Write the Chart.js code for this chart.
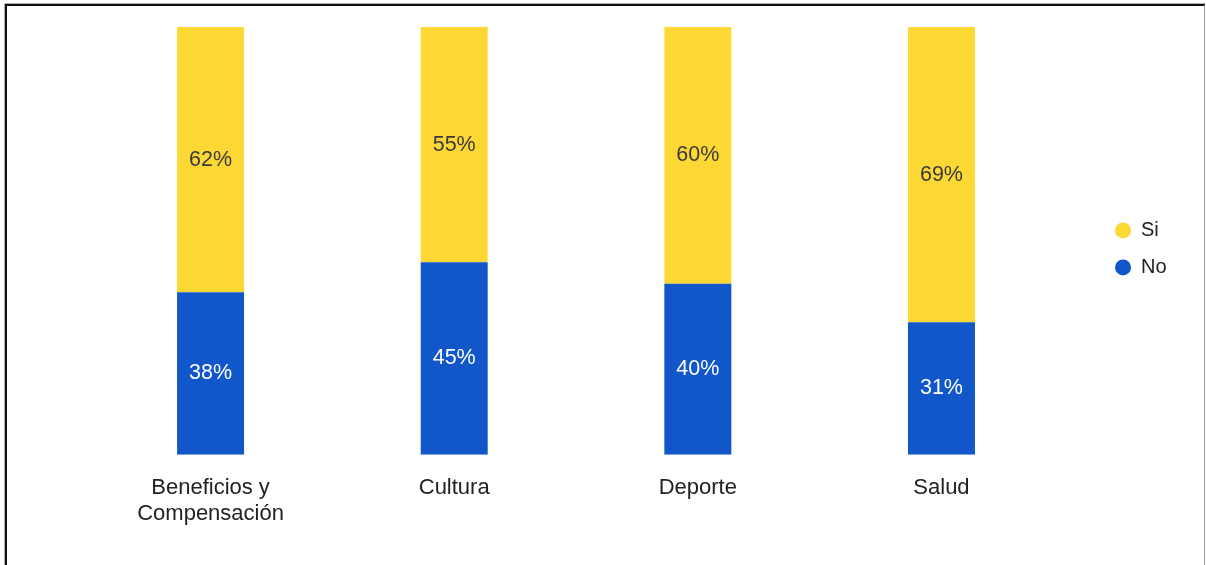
<!DOCTYPE html>
<html>
<head>
<meta charset="utf-8">
<script src="https://cdn.jsdelivr.net/npm/chart.js@4.4.1/dist/chart.umd.min.js"></script>
<style>
    body { margin: 0; background: #fff; font-family: "Liberation Sans", Arial, sans-serif; }
    #frame { position: absolute; left: 5px; top: 4px; width: 1200px; height: 700px; box-sizing: border-box;
             border-top: 2px solid #111; border-left: 2px solid #111; border-right: 1px solid #999;
             box-shadow: 0 -1px 0 0 #aaa, -1px 0 0 0 #aaa; }
    #wrap { position: absolute; left: 0; top: 0; width: 1206px; height: 565px; }
</style>
</head>
<body>
<div id="frame"></div>
<div id="wrap"><canvas id="myChart"></canvas></div>
<script>
const categorias = [['Beneficios y', 'Compensación'], 'Cultura', 'Deporte', 'Salud'];
const valoresSi = [62, 55, 60, 69];
const valoresNo = [38, 45, 40, 31];

// etiquetas % en el centro de cada segmento
const etiquetasPlugin = {
    id: 'etiquetas',
    afterDatasetsDraw(chart) {
        const ctx = chart.ctx;
        ctx.save();
        ctx.font = '21.5px "Liberation Sans", Arial, sans-serif';
        ctx.textAlign = 'center';
        ctx.textBaseline = 'middle';
        chart.data.datasets.forEach((ds, i) => {
            const meta = chart.getDatasetMeta(i);
            meta.data.forEach((bar, j) => {
                ctx.fillStyle = ds.labelColor;
                ctx.fillText(ds.data[j] + '%', bar.x, (bar.y + bar.base) / 2);
            });
        });
        ctx.restore();
    }
};

new Chart(document.getElementById('myChart'), {
    type: 'bar',
    data: {
        labels: categorias,
        datasets: [{
            label: 'No',
            data: valoresNo,
            backgroundColor: '#1157C9',
            labelColor: '#ffffff',
            borderWidth: 0,
            categoryPercentage: 1,
            barPercentage: 0.275
        }, {
            label: 'Si',
            data: valoresSi,
            backgroundColor: '#FDD835',
            labelColor: '#3a3a3a',
            borderWidth: 0,
            categoryPercentage: 1,
            barPercentage: 0.275
        }]
    },
    options: {
        responsive: true,
        maintainAspectRatio: false,
        animation: false,
        layout: { padding: { top: 27, left: 88.75, right: 29.4, bottom: 18 } },
        scales: {
            x: {
                stacked: true,
                grid: { display: false, drawTicks: false },
                border: { display: false },
                ticks: {
                    color: '#222',
                    padding: 21,
                    maxRotation: 0,
                    font: { family: '"Liberation Sans", Arial, sans-serif', size: 22, lineHeight: 1.14 }
                }
            },
            y: {
                stacked: true,
                position: 'right', // eje oculto, solo deja hueco antes de la leyenda
                min: 0,
                max: 100,
                grid: { display: false, drawTicks: false },
                border: { display: false },
                ticks: { display: false },
                afterFit(scale) { scale.width = 34.75; }
            }
        },
        plugins: {
            tooltip: { enabled: false },
            legend: {
                position: 'right',
                fullSize: false,
                reverse: true,
                title: { display: true, text: '', padding: { top: 7.5, bottom: 7.5 }, font: { size: 1, lineHeight: 1 } },
                labels: {
                    usePointStyle: true,
                    pointStyle: 'circle',
                    pointStyleWidth: 16,
                    boxHeight: 11.3,
                    padding: 17,
                    color: '#222',
                    font: { family: '"Liberation Sans", Arial, sans-serif', size: 20 }
                }
            }
        }
    },
    plugins: [etiquetasPlugin]
});
</script>
</body>
</html>
